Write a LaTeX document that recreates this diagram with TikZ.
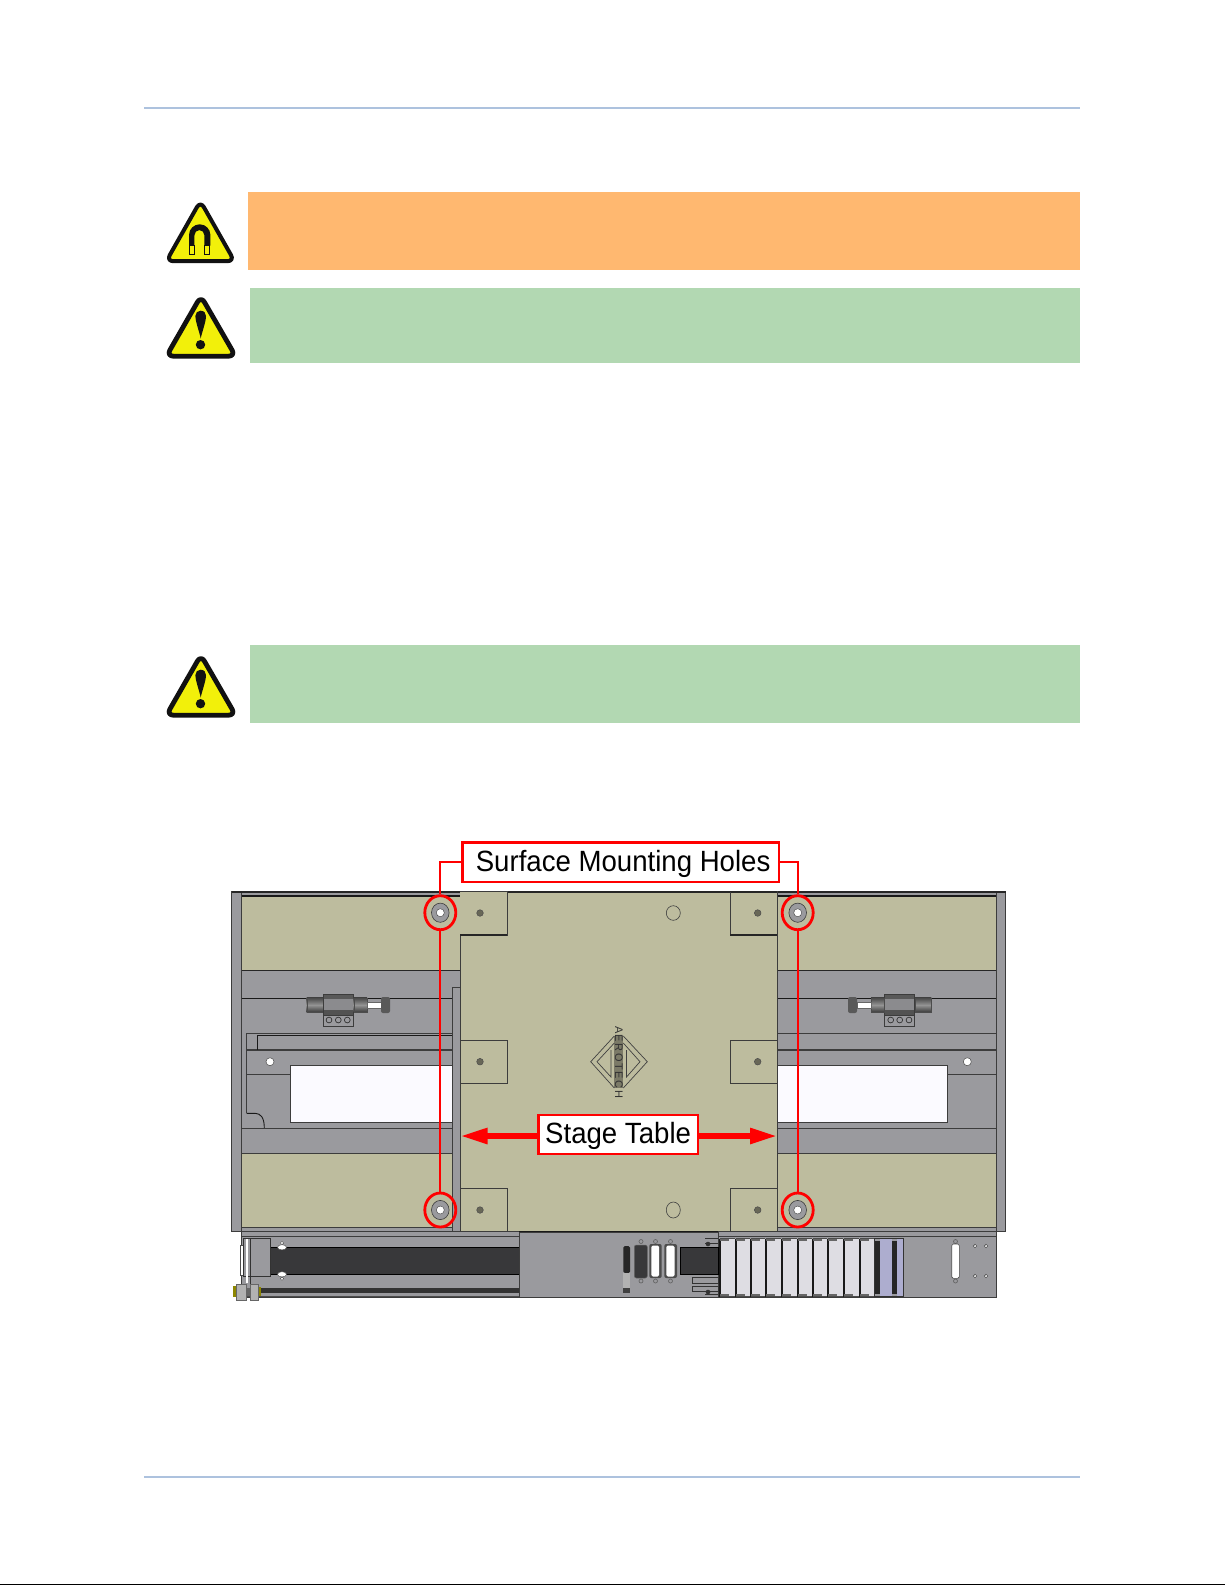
\documentclass[tikz,border=0pt]{standalone}
\usepackage{fontspec}
\setmainfont{Liberation Sans}
\usetikzlibrary{arrows.meta,shapes.geometric}
\definecolor{rulecol}{HTML}{ADC2DE}
\definecolor{warnorange}{HTML}{FFB870}
\definecolor{notegreen}{HTML}{B2D8B2}
\definecolor{signyellow}{HTML}{F2F00A}
\definecolor{signblack}{HTML}{111111}
\definecolor{tan}{HTML}{BDBC9E}
\definecolor{steel}{HTML}{9A9A9E}
\definecolor{belt}{HTML}{38383A}
\definecolor{win}{HTML}{FBFAFF}
\definecolor{linkcol}{HTML}{DEDDE3}
\definecolor{bluelink}{HTML}{ADADCF}
\definecolor{edgecol}{HTML}{3C3C3C}
\definecolor{alert}{HTML}{FF0000}
\tikzset{
  rulebar/.style={fill=rulecol,draw=none},
  banner/.style={draw=none},
  part/.style={draw=edgecol,line width=.8pt},
  steelpart/.style={part,fill=steel},
  tanpart/.style={part,fill=tan},
  heavy/.style={draw=black!85,line width=1.1pt},
  fine/.style={draw=edgecol,line width=.9pt},
  holehalo/.style={ellipse,draw=alert,line width=2.8pt,minimum width=31pt,minimum height=34pt,inner sep=0pt},
  callout/.style={draw=alert,fill=white,line width=2.6pt,inner sep=0pt,font=\fontsize{29.3}{30}\selectfont\addfontfeature{FakeStretch=0.942},text=black},
  leader/.style={draw=alert,line width=2.2pt},
  bigarrow/.style={draw=alert,line width=5.5pt,-{Triangle[length=27pt,width=15pt,fill=alert]}},
  signbody/.style={fill=signyellow,draw=signblack,line join=round,rounded corners=7pt},
}
\newcommand{\washer}[2]{%
  \fill[steel,draw=edgecol,line width=.6pt] (#1,#2) ellipse (8.8pt and 9.6pt);
  \fill[white,draw=edgecol,line width=.4pt] (#1,#2) circle (4pt);
}
\newcommand{\dowel}[2]{\fill[black!45!tan,draw=black!70,line width=.5pt] (#1,#2) circle (3.3pt);}
\newcommand{\hingeset}{%
  \shade[top color=black!72,bottom color=black!78,middle color=black!42,draw=black!70,line width=.4pt] (306.7,997.7) rectangle (323.3,1012.3);
  \fill[steel,draw=edgecol,line width=.7pt] (323.3,1010) rectangle (353.7,1026.7);
  \fill[black!10!steel] (323.3,998.7) rectangle (353.7,1010);
  \fill[black!65] (323.3,994.3) rectangle (353.7,998.7);
  \fill[black!68] (323.3,1010) rectangle (353.7,1015);
  \draw[edgecol,line width=.6pt] (323.3,994.3) rectangle (353.7,1015);
  \foreach \hx in {329,338.3,347.3}{\draw[black!80,line width=.7pt] (\hx,1020) circle (2.9pt);}
  \shade[top color=black!72,bottom color=black!78,middle color=black!42,draw=black!70,line width=.4pt] (353.7,997.7) rectangle (367,1012.3);
  \fill[white,draw=black!60,line width=.4pt] (367,1002) rectangle (381,1008);
  \fill[black!65,rounded corners=2pt] (381,997) rectangle (390,1013);
}
\newcommand{\dsubwhite}[2]{%
  \draw[black!60,line width=.7pt] (#1+6.2,1241.5) circle (2pt);
  \draw[black!60,line width=.7pt] (#1+6.2,1281) circle (2pt);
  \fill[black!70,rounded corners=2pt] (#1,1244) rectangle (#2,1278);
  \fill[white,rounded corners=1.5pt] (#1+2,1245.5) rectangle (#2-2.5,1276.5);
}
\begin{document}
\begin{tikzpicture}[x=1pt,y=-1pt]
\useasboundingbox (0,0) rectangle (1225,1585);
% page furniture
\fill[rulebar] (144,106.5) rectangle (1080,108.5);
\fill[rulebar] (144,1476) rectangle (1080,1478);
\fill[black] (0,1584) rectangle (1225,1585);
\fill[banner,warnorange] (248,192) rectangle (1080,270);
\fill[banner,notegreen] (250,288) rectangle (1080,363);
\fill[banner,notegreen] (250,645) rectangle (1080,723);
% magnet sign
\draw[signbody,line width=4pt] (200.4,201) -- (234.5,261.2) -- (166.3,261.2) -- cycle;
\fill[signblack] (189,245.7) -- (189,235) arc[start angle=180,end angle=0,x radius=10.7pt,y radius=10.7pt] -- (210.4,245.7) -- (204.3,245.7) -- (204.3,235) arc[start angle=0,end angle=180,x radius=4.9pt,y radius=4.9pt] -- (194.4,245.7) -- cycle;
\draw[signblack,line width=.8pt] (189.4,245.7) rectangle (194.4,254.6);
\draw[signblack,line width=.8pt] (204.6,245.7) rectangle (209.6,254.6);
% exclamation signs
\foreach \sy in {0,359}{
\begin{scope}[shift={(0,\sy)}]
\draw[signbody,line width=4.8pt] (200.9,296) -- (235.6,356.2) -- (166.4,356.2) -- cycle;
\fill[signblack] (200.5,310.7) .. controls (204,310.7) and (206,313) .. (206,316) .. controls (206,322) and (202,332) .. (200.7,338.5) .. controls (199.5,332) and (195.4,322) .. (195.4,316) .. controls (195.4,313) and (197.5,310.7) .. (200.5,310.7) -- cycle;
\fill[signblack] (200.5,344.7) circle (4.7pt);
\end{scope}}
% stage base: rails and panels
\fill[steelpart] (231.7,891.7) rectangle (241.7,1231);
\fill[steelpart] (996.3,891.7) rectangle (1005.7,1231);
\fill[steel] (241.7,891.7) rectangle (996.3,1231);
\draw[heavy] (231.7,892) -- (1005.7,892);
\draw[black!90,line width=1.3pt] (241.7,896) -- (996.3,896);
\fill[tan] (241.7,896.5) rectangle (996.3,970.7);
\fill[tan] (241.7,1153.3) rectangle (996.3,1227.3);
\draw[black!85,line width=1.2pt] (241.7,970.7) -- (996.3,970.7);
\draw[edgecol,line width=1.2pt] (241.7,1153.3) -- (996.3,1153.3);
\draw[edgecol,line width=1.2pt] (241.7,1227.3) -- (996.3,1227.3);
\draw[black!90,line width=.9pt] (241.7,998.3) -- (996.3,998.3);
\draw[fine] (246.7,1033.3) -- (996.3,1033.3);
\draw[edgecol,line width=1.2pt] (246.7,1050) -- (996.3,1050);
\draw[black!90,line width=.9pt] (257.3,1035.7) -- (452,1035.7);
\draw[black!90,line width=.9pt] (257.3,1035.7) -- (257.3,1050);
\draw[fine] (246.7,1033.3) -- (246.7,1113.3);
\draw[fine] (246.7,1074.3) -- (290.3,1074.3);
\draw[fine] (947.3,1074.3) -- (996.3,1074.3);
\draw[black!90,line width=.9pt] (246.7,1113.3) -- (255,1113.3) .. controls (261,1113.3) and (264.3,1118) .. (264.3,1128);
\draw[edgecol,line width=1pt] (241.7,1128.3) -- (996.3,1128.3);
% windows
\fill[win,draw=edgecol,line width=.9pt] (290.3,1065.7) rectangle (452.3,1122.3);
\fill[win,draw=edgecol,line width=.9pt] (777,1065.7) rectangle (947.3,1122.3);
\fill[white,draw=black!70,line width=.5pt] (270,1061.7) circle (4pt);
\fill[white,draw=black!70,line width=.5pt] (967.3,1061.7) circle (4pt);
% hinges
\hingeset
\begin{scope}[shift={(1238,0)},xscale=-1]\hingeset\end{scope}
% washers
\washer{440.3}{912.7}
\washer{440.3}{1210}
\washer{797.7}{912.7}
\washer{797.7}{1210}
% moving table
\fill[steelpart] (452.3,987.3) rectangle (460,1231);
\fill[tanpart] (460,891.7) rectangle (777.3,1231);
\draw[heavy] (460,892) -- (777.3,892);
\draw[part,fill=tan] (460,891.7) -- (507.3,891.7) -- (507.3,935) -- (460,935);
\draw[black!85,line width=1.1pt] (460,935) -- (507.3,935);
\draw[part] (460,1040) -| (507.3,1083.3) -- (460,1083.3);
\draw[part] (460,1188.7) -- (507.3,1188.7) -- (507.3,1231);
\draw[part] (777.3,935) -- (730.3,935) -- (730.3,891.7);
\draw[black!85,line width=1.1pt] (777.3,935) -- (730.3,935);
\draw[part] (777.3,1040) -| (730.3,1083.3) -- (777.3,1083.3);
\draw[part] (777.3,1188.7) -- (730.3,1188.7) -- (730.3,1231);
\dowel{480}{913}\dowel{480}{1061.7}\dowel{480}{1210}
\dowel{757.7}{913}\dowel{757.7}{1061.7}\dowel{757.7}{1210}
\draw[black!75,line width=.6pt] (673.3,913) ellipse (7pt and 7.3pt);
\draw[black!75,line width=.6pt] (673.3,1210) ellipse (7pt and 8pt);
% logo
\fill[black!35!tan] (614.3,1036) rectangle (623.3,1088);
\draw[black!75,line width=.7pt] (614.3,1036) -- (590.7,1061.7) -- (614.3,1088);
\draw[black!75,line width=.7pt] (614.3,1043) -- (597,1061.7) -- (611,1077) -- (611,1050);
\draw[black!75,line width=.7pt] (623.3,1036) -- (647.3,1061.7) -- (623.3,1088);
\draw[black!75,line width=.7pt] (623.3,1043) -- (640,1061.7) -- (626.5,1077) -- (626.5,1050);
\node (logotext) at (619,1062) [rotate=-90,inner sep=0pt,text=black!80,font=\fontsize{11}{11}\selectfont\addfontfeature{LetterSpace=14}] {AEROTECH};
% lower strip
\fill[steelpart] (241.7,1231.5) rectangle (996.3,1297.7);
\draw[edgecol,line width=.8pt] (241.7,1236) -- (996.3,1236);
\fill[belt,draw=black,line width=.6pt] (270.7,1247.3) rectangle (519.3,1274.3);
\fill[black!80] (260,1288.3) rectangle (519.3,1293.3);
\draw[black!70,line width=.6pt] (241.7,1296.7) -- (519.3,1296.7);
% motor end
\fill[white,draw=black!70,line width=.5pt] (240.3,1245) rectangle (244.3,1275);
\fill[steel,draw=black!80,line width=.7pt] (243.7,1238.3) rectangle (270.7,1276.7);
\fill[white] (245.7,1238.5) rectangle (248.3,1283);
\draw[black!80,line width=.6pt] (250,1238.3) -- (250,1285);
\foreach \ey/\hy in {1247.3/1243,1274.3/1278.7}{
  \fill[white,draw=black!70,line width=.4pt] (282,\ey) ellipse (4.5pt and 2.6pt);
  \draw[black!70,fill=white,line width=.4pt] (282,\hy) circle (1.7pt);
}
\fill[olive] (233,1286) rectangle (236,1297);
\fill[black!30] (236,1284) rectangle (246,1300);
\fill[black!60] (246,1288) rectangle (250,1296);
\fill[black!30] (250,1284) rectangle (258,1300);
\fill[olive] (258,1287) rectangle (260.5,1296);
\draw[black!60,line width=.5pt] (236,1284) rectangle (246,1300) (250,1284) rectangle (258,1300);
% carriage
\fill[steelpart] (519.3,1232.5) rectangle (718,1297.7);
\draw[black!90,line width=.9pt] (519.3,1231.7) -- (718,1231.7);
% connectors
\fill[black!85,rounded corners=1.5pt] (623.3,1246) rectangle (630,1273);
\fill[black!30] (623.3,1273) rectangle (630,1288);
\fill[black!75] (623.3,1288) rectangle (630,1293);
\draw[black!60,line width=.7pt] (641,1241.5) circle (2pt) (641,1281) circle (2pt);
\fill[belt,rounded corners=2pt,draw=black!60,line width=.5pt] (634.3,1245) rectangle (647.3,1278);
\dsubwhite{649.3}{661.7}
\dsubwhite{664.3}{677}
\fill[belt,draw=black,line width=.5pt] (680,1247.3) rectangle (718,1274.3);
\draw[black!80,line width=.6pt] (692.3,1277.3) rectangle (718,1283);
\draw[black!80,line width=.6pt] (692.3,1286) rectangle (718,1291.5);
\draw[black!80,line width=.6pt] (705,1238.3) -- (718,1238.3) (705,1243) -- (718,1243);
\draw[black!80,line width=.6pt] (705,1294) -- (718,1294);
\fill[black!80] (708,1244) circle (2.3pt);
\fill[black!80] (708,1292) circle (2.3pt);
% cable chain
\foreach \la/\lb in {720/735,736/750,751/765,766/781,782/797,798/811.7,813/827,828/843,844/859,860/874.3}{
  \fill[linkcol] (\la,1238.5) rectangle (\lb,1296.7);
  \draw[black!90,line width=1.4pt] (\la,1238.5) -- (\la,1296.7);
  \draw[black!70,line width=.7pt] (\la,1238.5) -- (\lb,1238.5);
  \draw[black!70,line width=.7pt] (\la,1296.7) -- (\lb,1296.7);
  \fill[black!60] (\la,1239) rectangle (\la+9,1241);
  \fill[black!60] (\la,1294) rectangle (\la+9,1296);
}
\fill[black!85] (875,1241) rectangle (880,1294);
\fill[bluelink] (880,1239) rectangle (892,1296);
\fill[black!85] (892,1241) rectangle (897,1294);
\fill[bluelink] (897,1239) rectangle (903,1296);
\draw[black!80,line width=.7pt] (874.3,1238.5) rectangle (903.3,1296.7);
% right connector
\draw[black!60,line width=.7pt] (955.5,1241.5) circle (2pt) (955.5,1281) circle (2pt);
\fill[white,draw=black!70,line width=.6pt,rounded corners=1.5pt] (951.7,1244) rectangle (959.3,1278.3);
\foreach \hx in {975,986}{\foreach \hy in {1246,1276}{
  \fill[white,draw=black!70,line width=.6pt] (\hx,\hy) circle (1.7pt);
}}
% call-outs
\node[holehalo] (holeTL) at (440.3,912.7) {};
\node[holehalo] (holeBL) at (440.3,1210) {};
\node[holehalo] (holeTR) at (797.7,912.7) {};
\node[holehalo] (holeBR) at (797.7,1210) {};
\node[callout,minimum width=316.7pt,minimum height=39.7pt] (lblHoles) at (620.6,862.2) {\hspace*{5pt}\raisebox{-9.5pt}[0pt][0pt]{Surface Mounting Holes}};
\node[callout,minimum width=159.7pt,minimum height=39pt] (lblStage) at (618.1,1134.5) {\raisebox{-8.8pt}[0pt][0pt]{Stage Table}};
\coordinate (tipL) at (460.5,1136);
\coordinate (tipR) at (777,1136);
\draw[leader] (lblHoles.west) -| (holeTL.north);
\draw[leader] (lblHoles.east) -| (holeTR.north);
\draw[leader] (holeTL.south) -- (holeBL.north);
\draw[leader] (holeTR.south) -- (holeBR.north);
\draw[bigarrow] (lblStage.west |- tipL) -- (tipL);
\draw[bigarrow] (lblStage.east |- tipR) -- (tipR);
\end{tikzpicture}
\end{document}
